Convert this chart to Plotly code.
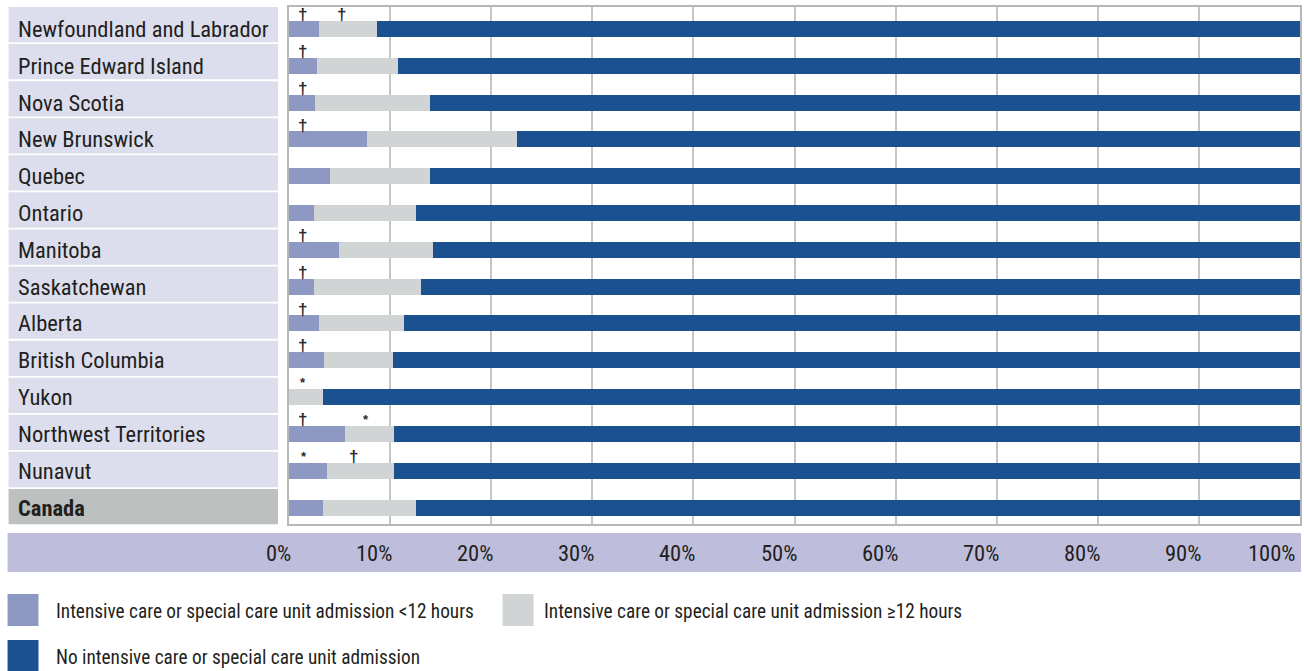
import plotly.graph_objects as go

# ---------------- data ----------------
regions = ["Newfoundland and Labrador", "Prince Edward Island", "Nova Scotia",
           "New Brunswick", "Quebec", "Ontario", "Manitoba", "Saskatchewan",
           "Alberta", "British Columbia", "Yukon", "Northwest Territories",
           "Nunavut", "Canada"]
icu_lt12 = [3.0, 2.8, 2.6, 7.7, 4.1, 2.5, 4.9, 2.5, 3.0, 3.5, 0.0, 5.5, 3.8, 3.4]
icu_ge12 = [5.7, 8.0, 11.3, 14.9, 9.8, 10.1, 9.3, 10.6, 8.4, 6.8, 3.4, 4.9, 6.6, 9.2]
no_icu = [91.3, 89.2, 86.1, 77.4, 86.1, 87.4, 85.8, 86.9, 88.6, 89.7, 96.6, 89.6, 89.6, 87.4]

# footnote symbols: (row, x-position in %, symbol)
note_rows = [0, 0, 1, 2, 3, 6, 7, 8, 9, 10, 11, 11, 12, 12]
note_x = [1.3, 5.2, 1.3, 1.3, 1.3, 1.3, 1.3, 1.3, 1.3, 1.4, 1.3, 7.6, 1.5, 6.4]
note_sym = ["†", "†", "†", "†", "†", "†", "†", "†", "†", "*", "†", "*", "*", "†"]

tick_vals = [0, 10, 20, 30, 40, 50, 60, 70, 80, 90, 100]
tick_text = ["0%", "10%", "20%", "30%", "40%", "50%", "60%", "70%", "80%", "90%", "100%"]

series_names = ["Intensive care or special care unit admission <12 hours",
                "Intensive care or special care unit admission ≥12 hours",
                "No intensive care or special care unit admission"]

# ---------------- style ----------------
C_LT12 = "#8e99c3"
C_GE12 = "#d1d4d5"
C_NO = "#1b5190"
C_LABEL_BG = "#dddeed"
C_CANADA_BG = "#bcc1bf"
C_BAND = "#bebedc"
C_GRID = "#c6c6c6"
C_TEXT = "#231f20"
FONT = "Roboto Condensed, Liberation Sans Narrow, Arial Narrow, sans-serif"

W, H = 1304, 671
L, R, T, B = 289, 1302, 7, 524
PW, PH = R - L, B - T


def px(xp):
    return (xp - L) / PW


def py(yp):
    return (B - yp) / PH


ypos = list(range(len(regions)))
fig = go.Figure()
for vals, col, name in [(icu_lt12, C_LT12, series_names[0]),
                        (icu_ge12, C_GE12, series_names[1]),
                        (no_icu, C_NO, series_names[2])]:
    fig.add_trace(go.Bar(x=vals, y=ypos, orientation="h", marker_color=col,
                         marker_line_width=0, width=0.435, name=name,
                         showlegend=False, hoverinfo="skip"))

shapes = []
annotations = []

# label boxes
box_h = (526 - 7) / len(regions)
for i, reg in enumerate(regions):
    top = 7 + box_h * i
    bot = top + box_h - 1.8
    shapes.append(dict(type="rect", xref="paper", yref="paper",
                       x0=px(8), x1=px(278), y0=py(bot), y1=py(top),
                       fillcolor=C_CANADA_BG if reg == "Canada" else C_LABEL_BG,
                       line_width=0, layer="below"))
    annotations.append(dict(xref="paper", yref="y", x=px(15), y=i,
                            xanchor="left", yanchor="middle", showarrow=False,
                            text=("<b>%s</b>" % reg) if reg == "Canada" else reg,
                            font=dict(family=FONT, size=22.5, color=C_TEXT)))

# footnote symbols
for r, xv, s in zip(note_rows, note_x, note_sym):
    annotations.append(dict(xref="x", yref="y", x=xv, y=r - 0.39,
                            xanchor="center", yanchor="middle", showarrow=False,
                            text="<b>%s</b>" % s,
                            font=dict(family="Liberation Sans, Arial, sans-serif",
                                      size=17 if s == "†" else 13, color="#2a2a2a")))

# axis band
shapes.append(dict(type="rect", xref="paper", yref="paper",
                   x0=px(7), x1=px(1303), y0=py(572), y1=py(533),
                   fillcolor=C_BAND, line_width=0, layer="below"))
for v, t in zip(tick_vals, tick_text):
    annotations.append(dict(xref="x", yref="paper", x=v, y=py(553),
                            xanchor="right", yanchor="middle", showarrow=False,
                            xshift=4 if v < 100 else -2,
                            text=t, font=dict(family=FONT, size=22.5, color=C_TEXT)))

# legend
legend_items = [(C_LT12, series_names[0], 7, 594, 54),
                (C_GE12, series_names[1], 503, 594, 542),
                (C_NO, series_names[2], 7, 640, 54)]
for col, name, x0, y0, tx in legend_items:
    shapes.append(dict(type="rect", xref="paper", yref="paper",
                       x0=px(x0), x1=px(x0 + 31), y0=py(y0 + 32), y1=py(y0),
                       fillcolor=col, line_width=0))
    annotations.append(dict(xref="paper", yref="paper", x=px(tx), y=py(y0 + 17),
                            xanchor="left", yanchor="middle", showarrow=False,
                            text=name, font=dict(family=FONT, size=19.3, color=C_TEXT)))

fig.update_layout(
    width=W, height=H,
    margin=dict(l=L, r=W - R, t=T, b=H - B, pad=0),
    paper_bgcolor="white", plot_bgcolor="white",
    barmode="stack", bargap=0,
    shapes=shapes, annotations=annotations,
    showlegend=False,
    xaxis=dict(range=[0, 100], tickvals=tick_vals, showticklabels=False,
               showgrid=True, gridcolor=C_GRID, gridwidth=2, zeroline=False,
               showline=True, linecolor="#b5b8b8", linewidth=2, mirror=True,
               ticks="", fixedrange=True),
    yaxis=dict(range=[13.448, -0.598], showticklabels=False, showgrid=False,
               zeroline=False, showline=True, linecolor="#b5b8b8", linewidth=2,
               mirror=True, ticks="", fixedrange=True),
)

fig.write_html("out.html", config={"displayModeBar": False},
               post_script="document.body.style.margin='0';")
